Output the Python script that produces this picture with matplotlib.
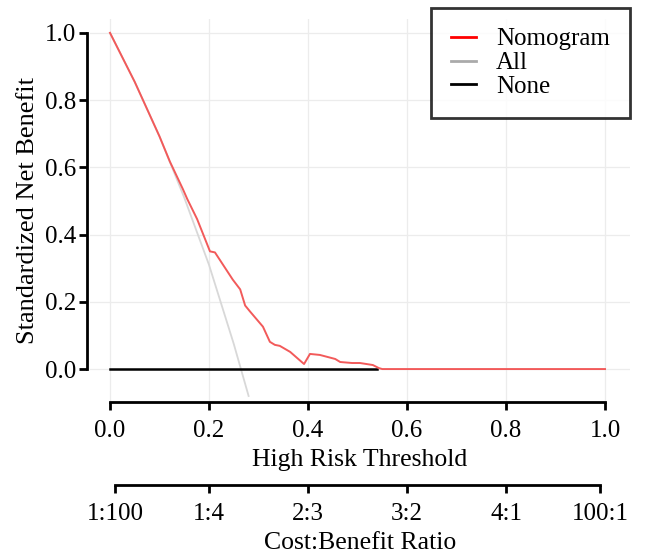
import matplotlib.pyplot as plt

plt.rcParams['font.family'] = ['Liberation Serif', 'DejaVu Serif']

# thresholds and standardized net benefit
nomo_x = [0.0, 0.05, 0.1, 0.121, 0.147, 0.156, 0.176, 0.202, 0.212, 0.228, 0.248,
          0.263, 0.273, 0.283, 0.309, 0.323, 0.333, 0.343, 0.364, 0.392, 0.404,
          0.424, 0.455, 0.465, 0.489, 0.505, 0.531, 0.543, 0.55, 1.0]
nomo_y = [1.0, 0.854, 0.692, 0.617, 0.536, 0.506, 0.446, 0.350, 0.347, 0.311, 0.266,
          0.237, 0.189, 0.171, 0.126, 0.081, 0.072, 0.069, 0.051, 0.015, 0.045,
          0.042, 0.030, 0.021, 0.018, 0.018, 0.012, 0.003, 0.0, 0.0]

all_x = [0.0, 0.05, 0.1, 0.15, 0.2, 0.25, 0.28]
all_y = [1.0, 0.854, 0.692, 0.51, 0.31, 0.075, -0.08]

none_x = [0.0, 0.54]
none_y = [0.0, 0.0]

x_ticks = [0.0, 0.2, 0.4, 0.6, 0.8, 1.0]
y_ticks = [0.0, 0.2, 0.4, 0.6, 0.8, 1.0]
cb_ticks = [0.01, 0.2, 0.4, 0.6, 0.8, 0.99]
cb_labels = ['1:100', '1:4', '2:3', '3:2', '4:1', '100:1']

W, H = 651, 556
fig = plt.figure(figsize=(W / 100, H / 100), dpi=100)

x0, x1 = -0.0404, 1.0505
ax = fig.add_axes([90 / W, 1 - 401 / H, 540 / W, 381.6 / H])
ax.set_xlim(x0, x1)
ax.set_ylim(-0.095, 1.04)

ax.grid(True, color='#ececec', lw=0.9)
ax.set_axisbelow(True)

ax.plot(all_x, all_y, color='#d8d8d8', lw=1.3, zorder=2)
ax.plot(none_x, none_y, color='black', lw=1.8, zorder=3)
ax.plot(nomo_x, nomo_y, color='#f25a5a', lw=1.4, zorder=4)

ax.spines['top'].set_visible(False)
ax.spines['right'].set_visible(False)
ax.spines['left'].set_bounds(0, 1)
ax.spines['bottom'].set_bounds(0, 1)
ax.spines['left'].set_position(('outward', 2))
ax.spines['bottom'].set_position(('outward', 1))
for s in ['left', 'bottom']:
    ax.spines[s].set_linewidth(2)

ax.set_xticks(x_ticks)
ax.set_yticks(y_ticks)
ax.set_xticklabels(['%.1f' % v for v in x_ticks])
ax.set_yticklabels(['%.1f' % v for v in y_ticks])
ax.tick_params(axis='both', length=6, width=2, labelsize=18, colors='black')
ax.tick_params(axis='x', pad=7)
ax.tick_params(axis='y', pad=2)
ax.set_xlabel('High Risk Threshold', fontsize=18.5, labelpad=5)
ax.set_ylabel('Standardized Net Benefit', fontsize=19, labelpad=4)

leg = ax.legend(['Nomogram', 'All', 'None'], loc='upper right',
                bbox_to_anchor=(630 / W, 1 - 8 / H), bbox_transform=fig.transFigure,
                fontsize=18, frameon=True, fancybox=False, handlelength=1.0,
                handletextpad=0.8, labelspacing=0.05, borderpad=0.8,
                borderaxespad=0)
leg.get_lines()[0].set_color('red')
leg.get_lines()[1].set_color('#aaaaaa')
leg.get_lines()[2].set_color('black')
for ln in leg.get_lines():
    ln.set_linewidth(2)
leg.get_frame().set_edgecolor('black')
leg.get_frame().set_linewidth(2)

# cost:benefit axis
ax2 = fig.add_axes([90 / W, 1 - 485 / H, 540 / W, 0.001])
ax2.set_xlim(x0, x1)
ax2.set_yticks([])
for s in ['top', 'right', 'left']:
    ax2.spines[s].set_visible(False)
ax2.spines['bottom'].set_bounds(cb_ticks[0], cb_ticks[-1])
ax2.spines['bottom'].set_linewidth(2)
ax2.set_xticks(cb_ticks)
ax2.set_xticklabels(cb_labels)
ax2.tick_params(axis='x', length=6, width=2, labelsize=18, pad=7)
ax2.set_xlabel('Cost:Benefit Ratio', fontsize=18.5, labelpad=5)
ax2.patch.set_visible(False)

plt.savefig('out.png', dpi=100)
